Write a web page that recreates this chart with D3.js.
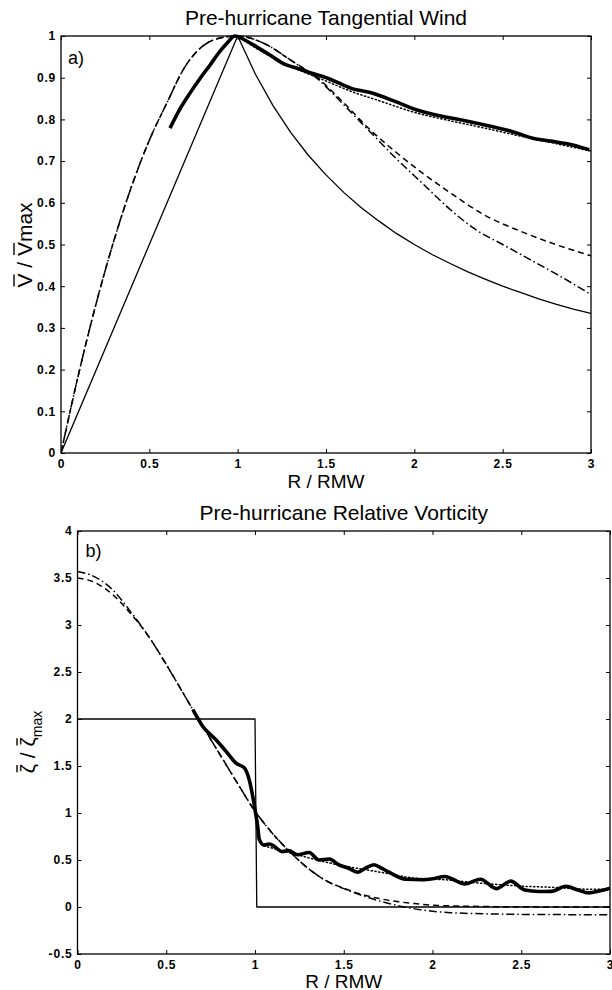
<!DOCTYPE html>
<html>
<head>
<meta charset="utf-8">
<script src="https://cdnjs.cloudflare.com/ajax/libs/d3/7.8.5/d3.min.js"></script>
<style>
  body { margin: 0; background: #fff; }
  svg { display: block; font-family: "Liberation Sans", Arial, sans-serif; }
  .tick text { font-size: 12px; font-weight: bold; letter-spacing: 0.8px; fill: #000; }
</style>
</head>
<body>
<svg id="fig" width="612" height="990"></svg>
<script>
// ---- data ----
const xTicks = [0, 0.5, 1, 1.5, 2, 2.5, 3];
const windTicks = [0, 0.1, 0.2, 0.3, 0.4, 0.5, 0.6, 0.7, 0.8, 0.9, 1];
const vortTicks = [-0.5, 0, 0.5, 1, 1.5, 2, 2.5, 3, 3.5, 4];

// (a) tangential wind, [R/RMW, V/Vmax]
const windSolid = [[0,0],[1,1],[1.1,0.909],[1.2,0.833],[1.3,0.769],[1.4,0.714],[1.5,0.667],
  [1.6,0.625],[1.7,0.588],[1.8,0.556],[1.9,0.526],[2,0.5],[2.1,0.476],[2.2,0.455],[2.3,0.435],
  [2.4,0.417],[2.5,0.4],[2.6,0.385],[2.7,0.37],[2.8,0.357],[2.9,0.345],[3,0.335]];
const windDashed = [[0,0],[0.1,0.19],[0.2,0.36],[0.3,0.51],[0.4,0.64],[0.5,0.75],[0.6,0.84],
  [0.7,0.925],[0.8,0.975],[0.9,0.995],[1,1],[1.15,0.982],[1.3,0.942],[1.45,0.9],[1.6,0.84],
  [1.75,0.775],[1.9,0.72],[2.05,0.67],[2.2,0.625],[2.4,0.57],[2.6,0.532],[2.8,0.5],[3,0.473]];
const windDashDot = [[0,0],[0.1,0.19],[0.2,0.36],[0.3,0.51],[0.4,0.64],[0.5,0.75],[0.6,0.84],
  [0.7,0.925],[0.8,0.975],[0.9,0.995],[1,1],[1.15,0.982],[1.3,0.942],[1.45,0.898],[1.6,0.835],
  [1.75,0.77],[1.9,0.705],[2.05,0.645],[2.2,0.585],[2.35,0.535],[2.5,0.5],[2.65,0.465],
  [2.8,0.43],[3,0.38]];
const windThick = [[0.617,0.779],[0.68,0.83],[0.73,0.863],[0.79,0.9],[0.843,0.93],[0.89,0.958],
  [0.938,0.982],[0.985,1],[1.05,0.988],[1.107,0.974],[1.18,0.955],[1.258,0.934],[1.35,0.921],
  [1.41,0.912],[1.52,0.897],[1.64,0.875],[1.77,0.862],[1.88,0.845],[2.01,0.823],[2.13,0.81],
  [2.26,0.799],[2.36,0.79],[2.45,0.782],[2.56,0.77],[2.67,0.755],[2.77,0.748],[2.86,0.742],
  [2.99,0.727]];
const windDotted = [[1,1],[1.1,0.972],[1.2,0.948],[1.35,0.918],[1.5,0.892],[1.65,0.866],
  [1.8,0.845],[2,0.817],[2.2,0.797],[2.4,0.779],[2.6,0.76],[2.8,0.742],[3,0.724]];

// (b) relative vorticity, [R/RMW, zeta/zetamax]
const vortSolid = [[0,2],[1,2],[1.01,0],[3,0]];
const vortDashed = [[0,3.5],[0.1,3.45],[0.2,3.32],[0.3,3.12],[0.4,2.88],[0.5,2.58],[0.6,2.26],
  [0.7,1.94],[0.8,1.63],[0.9,1.32],[1,1.02],[1.1,0.78],[1.2,0.58],[1.3,0.41],[1.4,0.28],
  [1.5,0.2],[1.6,0.135],[1.7,0.09],[1.8,0.058],[1.9,0.036],[2,0.02],[2.2,0.008],[2.5,0.002],[3,0]];
const vortDashDot = [[0,3.57],[0.1,3.51],[0.2,3.37],[0.3,3.14],[0.4,2.88],[0.5,2.58],[0.6,2.26],
  [0.7,1.94],[0.8,1.63],[0.9,1.32],[1,1.02],[1.1,0.78],[1.2,0.58],[1.3,0.41],[1.4,0.28],
  [1.5,0.195],[1.6,0.125],[1.7,0.065],[1.8,0.018],[1.9,-0.02],[2,-0.045],[2.1,-0.06],
  [2.2,-0.068],[2.4,-0.076],[2.6,-0.08],[3,-0.082]];
const vortThick = [[0.65,2.1],[0.68,2],[0.706,1.92],[0.74,1.85],[0.78,1.78],[0.837,1.655],
  [0.893,1.53],[0.94,1.48],[0.968,1.35],[0.987,1.18],[1.005,0.98],[1.015,0.86],[1.024,0.72],
  [1.05,0.66],[1.08,0.67],[1.1,0.655],[1.155,0.59],[1.19,0.6],[1.24,0.556],[1.305,0.58],
  [1.36,0.5],[1.42,0.51],[1.47,0.45],[1.53,0.41],[1.58,0.37],[1.62,0.41],[1.67,0.45],
  [1.715,0.41],[1.755,0.37],[1.85,0.295],[1.94,0.29],[2,0.3],[2.07,0.325],[2.12,0.29],
  [2.18,0.245],[2.27,0.295],[2.36,0.195],[2.44,0.275],[2.52,0.18],[2.6,0.165],[2.67,0.166],
  [2.75,0.22],[2.82,0.18],[2.88,0.15],[2.94,0.17],[3,0.2]];
const vortDotted = [[1.05,0.65],[1.15,0.6],[1.27,0.54],[1.35,0.5],[1.44,0.46],[1.55,0.42],
  [1.66,0.385],[1.75,0.355],[1.85,0.32],[1.95,0.3],[2.07,0.29],[2.26,0.255],[2.4,0.235],
  [2.52,0.22],[2.67,0.21],[2.86,0.19],[3,0.19]];

// ---- drawing ----
const svg = d3.select('#fig');

const styles = {
  solid:   { w: 1.3, dash: null },
  dashed:  { w: 1.5, dash: '6,4' },
  dashdot: { w: 1.5, dash: '8,3,1.5,3' },
  dotted:  { w: 1.5, dash: '1.2,2.6' },
  thick:   { w: 3.6, dash: null }
};

function panel(opt) {
  const x = d3.scaleLinear().domain([0, 3]).range([opt.left, opt.right]);
  const y = d3.scaleLinear().domain(opt.yDomain).range([opt.bottom, opt.top]);
  const g = svg.append('g');

  g.append('clipPath').attr('id', opt.id + '-clip')
    .append('rect').attr('x', opt.left).attr('y', opt.top - 2)
    .attr('width', opt.right - opt.left).attr('height', opt.bottom - opt.top + 4);

  const ax = (a) => a.tickSizeOuter(0).tickSizeInner(-4);
  g.append('g').attr('transform', `translate(0,${opt.bottom})`)
    .call(ax(d3.axisBottom(x).tickValues(xTicks).tickFormat(d => d).tickPadding(6)))
    .call(s => s.select('.domain').remove());
  g.append('g').attr('transform', `translate(0,${opt.top})`)
    .call(ax(d3.axisTop(x).tickValues(xTicks).tickFormat('')))
    .call(s => s.select('.domain').remove());
  g.append('g').attr('transform', `translate(${opt.left},0)`)
    .call(ax(d3.axisLeft(y).tickValues(opt.yTicks).tickFormat(d => d).tickPadding(5)))
    .call(s => s.select('.domain').remove());
  g.append('g').attr('transform', `translate(${opt.right},0)`)
    .call(ax(d3.axisRight(y).tickValues(opt.yTicks).tickFormat('')))
    .call(s => s.select('.domain').remove());
  g.selectAll('.tick line').attr('stroke', '#000').attr('stroke-width', 1);

  g.append('rect').attr('x', opt.left).attr('y', opt.top)
    .attr('width', opt.right - opt.left).attr('height', opt.bottom - opt.top)
    .attr('fill', 'none').attr('stroke', '#000').attr('stroke-width', 1.3);

  const plot = g.append('g').attr('clip-path', `url(#${opt.id}-clip)`);
  opt.series.forEach(s => {
    const st = styles[s.style];
    const line = d3.line().x(d => x(d[0])).y(d => y(d[1]))
      .curve(s.linear ? d3.curveLinear : d3.curveMonotoneX);
    plot.append('path').datum(s.data).attr('d', line)
      .attr('fill', 'none').attr('stroke', '#000')
      .attr('stroke-width', st.w).attr('stroke-dasharray', st.dash)
      .attr('stroke-linejoin', 'round').attr('stroke-linecap', s.style === 'dotted' ? 'round' : 'butt');
  });

  g.append('text').attr('x', (opt.left + opt.right) / 2).attr('y', opt.titleY)
    .attr('text-anchor', 'middle').attr('font-size', 21).text(opt.title);
  g.append('text').attr('x', (opt.left + opt.right) / 2).attr('y', opt.xlabelY)
    .attr('text-anchor', 'middle').attr('font-size', 19).text('R / RMW');
  g.append('text').attr('x', opt.left + opt.tagDx).attr('y', opt.top + opt.tagDy)
    .attr('font-size', 18).text(opt.tag);
  return g;
}

// overbar helper for rotated y labels
function overbar(g, tspan) {
  const b = tspan.node().getBBox();
  g.append('line').attr('x1', b.x + 1).attr('x2', b.x + b.width - 1)
    .attr('y1', b.y + 1).attr('y2', b.y + 1)
    .attr('stroke', '#000').attr('stroke-width', 1.4);
}

// panel a
panel({
  id: 'pa', left: 61, right: 591, top: 36, bottom: 453,
  yDomain: [0, 1], yTicks: windTicks,
  title: 'Pre-hurricane Tangential Wind', titleY: 25, xlabelY: 488,
  tag: 'a)', tagDx: 7, tagDy: 28,
  series: [
    { data: windSolid, style: 'solid', linear: true },
    { data: windDashed, style: 'dashed' },
    { data: windDashDot, style: 'dashdot' },
    { data: windDotted, style: 'dotted' },
    { data: windThick, style: 'thick' }
  ]
});

// panel b
panel({
  id: 'pb', left: 77.5, right: 610, top: 531, bottom: 954,
  yDomain: [-0.5, 4], yTicks: vortTicks,
  title: 'Pre-hurricane Relative Vorticity', titleY: 520, xlabelY: 987.5,
  tag: 'b)', tagDx: 8, tagDy: 26,
  series: [
    { data: vortSolid, style: 'solid', linear: true },
    { data: vortDashed, style: 'dashed' },
    { data: vortDashDot, style: 'dashdot' },
    { data: vortDotted, style: 'dotted' },
    { data: vortThick, style: 'thick' }
  ]
});

// y label a: V / Vmax with overbars
const ga = svg.append('g').attr('transform', 'translate(32,245) rotate(-90)');
const ta = ga.append('text').attr('text-anchor', 'middle').attr('font-size', 21);
const va1 = ta.append('tspan').text('V');
ta.append('tspan').text(' / ');
const va2 = ta.append('tspan').text('V');
ta.append('tspan').text('max');
overbar(ga, va1); overbar(ga, va2);

// y label b: zeta / zeta_max with overbars
const gb = svg.append('g').attr('transform', 'translate(35,742) rotate(-90)');
const tb = gb.append('text').attr('text-anchor', 'middle').attr('font-size', 21);
const zb1 = tb.append('tspan').text('ζ');
tb.append('tspan').text(' / ');
const zb2 = tb.append('tspan').text('ζ');
tb.append('tspan').attr('font-size', 14).attr('dy', 7).text('max');
overbar(gb, zb1); overbar(gb, zb2);
</script>
</body>
</html>
